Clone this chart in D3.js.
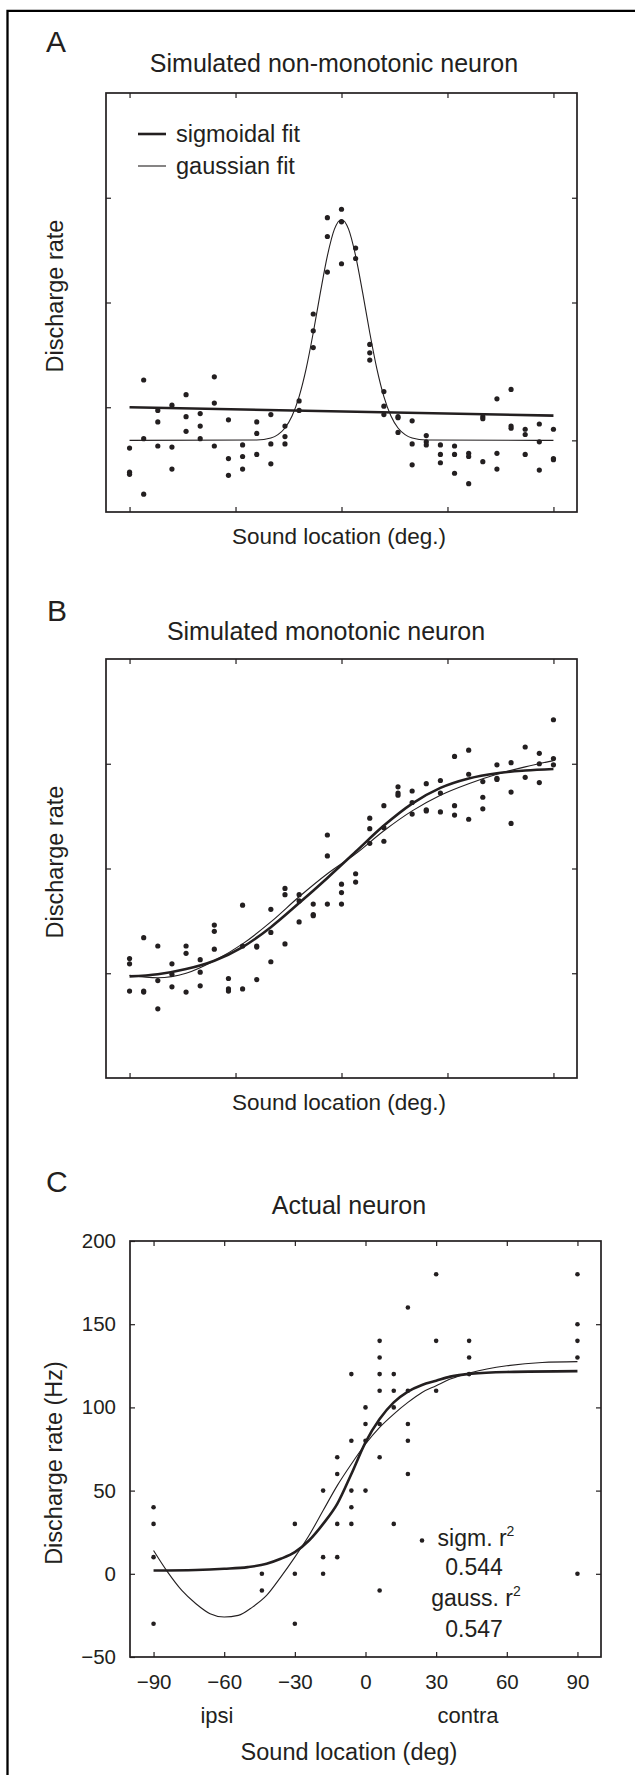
<!DOCTYPE html>
<html>
<head>
<meta charset="utf-8">
<script src="https://cdn.jsdelivr.net/npm/d3@7"></script>
<style>
  body { margin: 0; background: #fff; }
  svg { display: block; }
  text { font-family: "Liberation Sans", Arial, Helvetica, sans-serif; fill: #231f20; }
</style>
</head>
<body>
<svg id="fig" width="635" height="1775"></svg>
<script>
// ---------- DATA ----------
// Panels A and B: sound locations (deg)
const simLocations = [-90,-84,-78,-72,-66,-60,-54,-48,-42,-36,-30,-24,-18,-12,-6,0,6,12,18,24,30,36,42,48,54,60,66,72,78,84,90];
const simTicksX = [-90,-45,0,45,90];

// Panel A: simulated non-monotonic neuron (arbitrary units)
const nonMonoRates = [
  [0.61,0.38,0.36],[1.26,0.70,0.17],[0.97,0.86,0.63],[1.02,0.62,0.41],[1.12,0.91,0.77],
  [0.94,0.82,0.70],[1.29,1.04,0.63],[0.88,0.51,0.35],[0.64,0.53,0.41],[0.86,0.75,0.55],
  [0.93,0.65,0.46],[0.82,0.72,0.65],[1.06,0.97],[1.89,1.73,1.57],[2.81,2.63,2.29],
  [2.89,2.77,2.37],[2.52,2.42],[1.60,1.52,1.45],[1.15,1.01,0.93],[0.91,0.90,0.76],
  [0.87,0.65,0.45],[0.73,0.67,0.64],[0.64,0.55,0.47],[0.63,0.55,0.37],[0.56,0.53,0.27],
  [0.91,0.89,0.48],[1.08,0.56,0.41],[1.17,0.82,0.80],[0.79,0.74,0.55],[0.84,0.67,0.40],
  [0.79,0.51,0.50]
];
const nonMonoSigmX = [-90, 90];
const nonMonoSigmY = [1.00, 0.92];
const nonMonoGaussX = [-90,-36,-30,-27,-24,-21,-18,-15,-12,-9,-6,-3,0,3,6,9,12,15,18,21,24,27,30,36,90];
const nonMonoGaussY = [0.684,0.687,0.707,0.739,0.802,0.916,1.102,1.369,1.711,2.091,2.445,2.700,2.793,2.700,2.445,2.091,1.711,1.369,1.102,0.916,0.802,0.739,0.707,0.687,0.684];
const nonMonoTicksLeft = [1,2,3];
const nonMonoTicksRight = [0.684,2,3];
const legendLabels = ["sigmoidal fit", "gaussian fit"];

// Panel B: simulated monotonic neuron (arbitrary units)
const monoRates = [
  [1.14,1.09,0.83],[1.34,0.83,0.82],[1.26,0.93,0.66],[1.09,0.99,0.87],[1.26,1.19,0.82],
  [1.13,1.01,0.88],[1.46,1.40,1.23],[0.95,0.85,0.83],[1.65,1.26,0.85],[1.26,1.25,0.94],
  [1.61,1.39,1.11],[1.81,1.75,1.28],[1.75,1.69,1.49],[1.66,1.56,1.55],[2.32,2.12,1.66],
  [1.85,1.77,1.66],[1.95,1.87],[2.48,2.38,2.24],[2.60,2.39,2.26],[2.78,2.72,2.70],
  [2.74,2.63,2.52],[2.81,2.56,2.55],[2.84,2.72,2.54],[3.07,2.60,2.51],[3.13,2.90,2.47],
  [2.83,2.68,2.57],[2.99,2.86,2.85],[3.01,2.73,2.43],[3.16,2.87],[3.10,3.00,2.82],
  [3.42,3.05,2.99]
];
const monoSigmX = [-90,-78,-66,-54,-42,-30,-18,-6,6,18,30,42,54,66,78,90];
const monoSigmY = [0.97,0.99,1.04,1.12,1.25,1.44,1.67,1.91,2.16,2.41,2.62,2.77,2.86,2.91,2.935,2.95];
const monoGaussX = [-90,-78,-66,-54,-42,-30,-18,-6,6,18,30,42,54,66,78,90];
const monoGaussY = [0.98,0.957,1.00,1.12,1.28,1.49,1.73,1.95,2.14,2.36,2.55,2.70,2.81,2.90,2.97,3.03];
const simTicksY = [1,2,3];

// Panel C: actual neuron (Hz)
const actualLocations = [-90,-44,-30,-18,-12,-6,0,6,12,18,24,30,44,90];
const actualRates = [
  [40,30,10,-30],[0,-10],[30,0,-30],[50,10,0],[70,60,30,10],[120,80,50,40,30],
  [100,90,80,50],[140,130,120,110,90,70,-10],[120,110,100,30],[160,110,90,80,60],
  [20],[180,140,110],[140,130,120],[180,150,140,130,0]
];
const actualSigmX = [-90,-72,-60,-50,-42,-36,-30,-24,-18,-12,-6,0,6,12,18,24,30,36,45,60,90];
const actualSigmY = [2,2.3,3,4,6,9,13,20,30,42,60,79,93,103,109.5,113.5,116,118.5,120.3,121.3,121.8];
const actualGaussX = [-90,-84,-78,-72,-66,-60,-54,-48,-42,-36,-30,-24,-18,-12,-6,0,6,12,18,24,30,36,45,60,75,90];
const actualGaussY = [14,1,-10,-18,-24,-26,-25,-20,-13,-2,10,23,38,53,66,78,88,96,103,109,113,117,121,125,127,127.5];
const actualTicksX = [-90,-60,-30,0,30,60,90];
const actualTicksY = [-50,0,50,100,150,200];
const actualStats = ["sigm. r", "0.544", "gauss. r", "0.547"];
const sideLabels = ["ipsi", "contra"];

// ---------- DRAWING ----------
const svg = d3.select("#fig");
const ink = "#231f20";
const FONT = '"Liberation Sans", Arial, Helvetica, sans-serif';

// outer frame (top and left edges only)
svg.append("path").attr("d", "M7.5,1775 V10.8 H635")
  .attr("fill", "none").attr("stroke", "#000").attr("stroke-width", 2.3);

function panelText(x, y, str, size, anchor) {
  return svg.append("text").attr("x", x).attr("y", y).attr("font-size", size)
    .attr("text-anchor", anchor || "start").text(str);
}
function yLabel(x, y, str, size) {
  return svg.append("text").attr("transform", `translate(${x},${y}) rotate(-90)`)
    .attr("font-size", size).attr("text-anchor", "middle").text(str);
}
const fmtMinus = d => d < 0 ? "\u2212" + Math.abs(d) : String(d);

function frame(g, x, y, ticksX, ticksYL, ticksYR, withLabels) {
  const [x0, x1] = x.range(), [y0, y1] = y.range();
  const tl = 5;
  const axB = d3.axisBottom(x).tickValues(ticksX).tickSize(-tl).tickPadding(17)
    .tickFormat(withLabels ? fmtMinus : "");
  const axT = d3.axisTop(x).tickValues(ticksX).tickSize(-tl).tickFormat("");
  const axL = d3.axisLeft(y).tickValues(ticksYL).tickSize(-tl).tickPadding(14)
    .tickFormat(withLabels ? fmtMinus : "");
  const axR = d3.axisRight(y).tickValues(ticksYR).tickSize(-tl).tickFormat("");
  const gb = g.append("g").attr("transform", `translate(0,${y0})`).call(axB);
  const gt = g.append("g").attr("transform", `translate(0,${y1})`).call(axT);
  const gl = g.append("g").attr("transform", `translate(${x0},0)`).call(axL);
  const gr = g.append("g").attr("transform", `translate(${x1},0)`).call(axR);
  [gb, gt, gl, gr].forEach(a => {
    a.select(".domain").remove();
    a.selectAll(".tick line").attr("stroke", ink).attr("stroke-width", 1.2);
    a.selectAll("text").attr("font-family", FONT).attr("font-size", 20.5).attr("fill", ink);
  });
  g.append("rect").attr("x", x0).attr("y", y1).attr("width", x1 - x0).attr("height", y0 - y1)
    .attr("fill", "none").attr("stroke", ink).attr("stroke-width", 1.7);
}

function fitLine(g, x, y, xs, ys, width) {
  const pts = xs.map((d, i) => [d, ys[i]]);
  g.append("path").datum(pts)
    .attr("d", d3.line().x(d => x(d[0])).y(d => y(d[1])).curve(d3.curveMonotoneX))
    .attr("fill", "none").attr("stroke", ink).attr("stroke-width", width)
    .attr("stroke-linejoin", "round").attr("stroke-linecap", "butt");
}

function dots(g, x, y, locs, rates, r) {
  const pts = [];
  locs.forEach((l, i) => rates[i].forEach(v => pts.push([l, v])));
  g.selectAll(null).data(pts).enter().append("circle")
    .attr("cx", d => x(d[0])).attr("cy", d => y(d[1])).attr("r", r).attr("fill", ink);
}

// ---------- Panel A ----------
{
  const x = d3.scaleLinear().domain([-100, 100]).range([106, 577]);
  const y = d3.scaleLinear().domain([0, 4]).range([512, 93]);
  const g = svg.append("g");
  panelText(46, 52, "A", 30);
  panelText(334, 72, "Simulated non-monotonic neuron", 25, "middle");
  frame(g, x, y, simTicksX, nonMonoTicksLeft, nonMonoTicksRight, false);
  dots(g, x, y, simLocations, nonMonoRates, 2.6);
  fitLine(g, x, y, nonMonoSigmX, nonMonoSigmY, 2.6);
  fitLine(g, x, y, nonMonoGaussX, nonMonoGaussY, 1.1);
  // legend
  g.append("line").attr("x1", 138).attr("x2", 166).attr("y1", 134).attr("y2", 134)
    .attr("stroke", ink).attr("stroke-width", 2.6);
  g.append("line").attr("x1", 138).attr("x2", 166).attr("y1", 166).attr("y2", 166)
    .attr("stroke", ink).attr("stroke-width", 1.1);
  panelText(176, 142, legendLabels[0], 23.5);
  panelText(176, 174, legendLabels[1], 23.5);
  yLabel(63, 296, "Discharge rate", 23.5);
  panelText(339, 544, "Sound location (deg.)", 22.5, "middle");
}

// ---------- Panel B ----------
{
  const x = d3.scaleLinear().domain([-100, 100]).range([106, 577]);
  const y = d3.scaleLinear().domain([0, 4]).range([1078, 659]);
  const g = svg.append("g");
  panelText(47, 621, "B", 30);
  panelText(326, 640, "Simulated monotonic neuron", 25, "middle");
  frame(g, x, y, simTicksX, simTicksY, simTicksY, false);
  dots(g, x, y, simLocations, monoRates, 2.6);
  fitLine(g, x, y, monoSigmX, monoSigmY, 2.6);
  fitLine(g, x, y, monoGaussX, monoGaussY, 1.1);
  yLabel(63, 862, "Discharge rate", 23.5);
  panelText(339, 1110, "Sound location (deg.)", 22.5, "middle");
}

// ---------- Panel C ----------
{
  const x = d3.scaleLinear().domain([-100, 100]).range([130, 601]);
  const y = d3.scaleLinear().domain([-50, 200]).range([1657, 1241]);
  const g = svg.append("g");
  panelText(46, 1192, "C", 30);
  panelText(349, 1214, "Actual neuron", 25, "middle");
  frame(g, x, y, actualTicksX, actualTicksY, actualTicksY.slice(1, -1), true);
  dots(g, x, y, actualLocations, actualRates, 2.3);
  fitLine(g, x, y, actualSigmX, actualSigmY, 2.6);
  fitLine(g, x, y, actualGaussX, actualGaussY, 1.1);
  const s1 = panelText(476, 1546, actualStats[0], 23, "middle");
  s1.append("tspan").attr("font-size", 14).attr("dy", -10).text("2");
  panelText(474, 1575, actualStats[1], 23, "middle");
  const s2 = panelText(476, 1606, actualStats[2], 23, "middle");
  s2.append("tspan").attr("font-size", 14).attr("dy", -10).text("2");
  panelText(474, 1637, actualStats[3], 23, "middle");
  panelText(217, 1723, sideLabels[0], 22, "middle");
  panelText(468, 1723, sideLabels[1], 22, "middle");
  yLabel(62, 1463, "Discharge rate (Hz)", 23.5);
  panelText(349, 1760, "Sound location (deg)", 23.5, "middle");
}
</script>
</body>
</html>
